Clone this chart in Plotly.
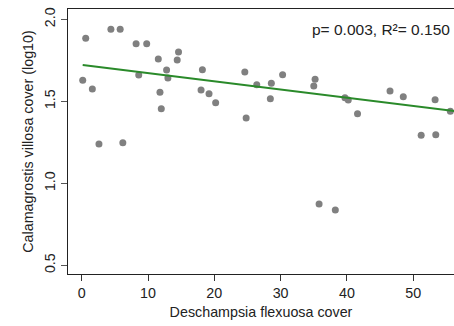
import plotly.graph_objects as go

# Deschampsia flexuosa cover (x) vs Calamagrostis villosa cover log10 (y)
desch_cover = [0.15, 0.6, 1.6, 2.6, 4.4, 5.8, 6.2, 8.2, 8.6, 9.8,
               11.55, 11.8, 12.0, 12.8, 13.0, 14.4, 14.6, 18.0, 18.2, 19.2,
               20.2, 24.6, 24.8, 26.4, 28.6, 28.45, 30.3, 35.2, 35.0, 39.7,
               40.2, 41.6, 46.5, 48.5, 53.3, 51.2, 53.4, 55.6, 35.8, 38.25]
calam_log = [1.628, 1.884, 1.575, 1.240, 1.939, 1.939, 1.248, 1.851, 1.660, 1.851,
             1.758, 1.555, 1.455, 1.691, 1.642, 1.752, 1.801, 1.569, 1.693, 1.546,
             1.491, 1.679, 1.398, 1.601, 1.610, 1.516, 1.662, 1.634, 1.593, 1.522,
             1.508, 1.424, 1.563, 1.528, 1.510, 1.293, 1.296, 1.439, 0.874, 0.837]

fit_intercept = 1.722
fit_slope = -0.0050
fit_x_range = [min(desch_cover), 58.0]
fit_y = [fit_intercept + fit_slope * v for v in fit_x_range]

x_ticks = [0, 10, 20, 30, 40, 50]
y_ticks = [0.5, 1.0, 1.5, 2.0]
stats_label = "p= 0.003, R²= 0.150"

FONT = "Liberation Sans, Arial, sans-serif"

fig = go.Figure()
fig.add_trace(go.Scatter(
    x=desch_cover, y=calam_log, mode="markers",
    marker=dict(color="#808080", size=7, line=dict(width=0)),
    showlegend=False, cliponaxis=True))
fig.add_trace(go.Scatter(
    x=fit_x_range, y=fit_y, mode="lines",
    line=dict(color="#2a8a2a", width=2),
    showlegend=False))

fig.update_layout(
    width=454, height=326,
    margin=dict(l=68, r=0, t=9, b=52),
    paper_bgcolor="white", plot_bgcolor="white",
    font=dict(family=FONT, size=14.3, color="#222222"),
    xaxis=dict(
        range=[-2.07, 56.15], tickmode="array", tickvals=x_ticks,
        ticks="outside", ticklen=6, tickcolor="#333333", tickwidth=1,
        showline=True, linecolor="#222222", linewidth=1, mirror=True,
        showgrid=False, zeroline=False,
        title=dict(text="Deschampsia flexuosa cover", standoff=6,
                   font=dict(size=14.3)),
    ),
    yaxis=dict(
        range=[0.447, 2.063], tickmode="array", tickvals=y_ticks,
        ticktext=["0.5", "1.0", "1.5", "2.0"],
        ticks="outside", ticklen=6, tickcolor="#555555", tickwidth=1,
        tickangle=-90,
        showline=True, linecolor="#222222", linewidth=1, mirror=False,
        showgrid=False, zeroline=False,
        title=dict(text="Calamagrostis villosa cover (log10)", standoff=5,
                   font=dict(size=14.3)),
    ),
    annotations=[dict(
        text=stats_label, xref="paper", yref="paper",
        x=(452 - 68) / 386, y=1 - (30 - 9) / 265,
        xanchor="right", yanchor="middle", showarrow=False,
        font=dict(size=15.5, color="#222222"))],
)

fig.write_html("out.html")
